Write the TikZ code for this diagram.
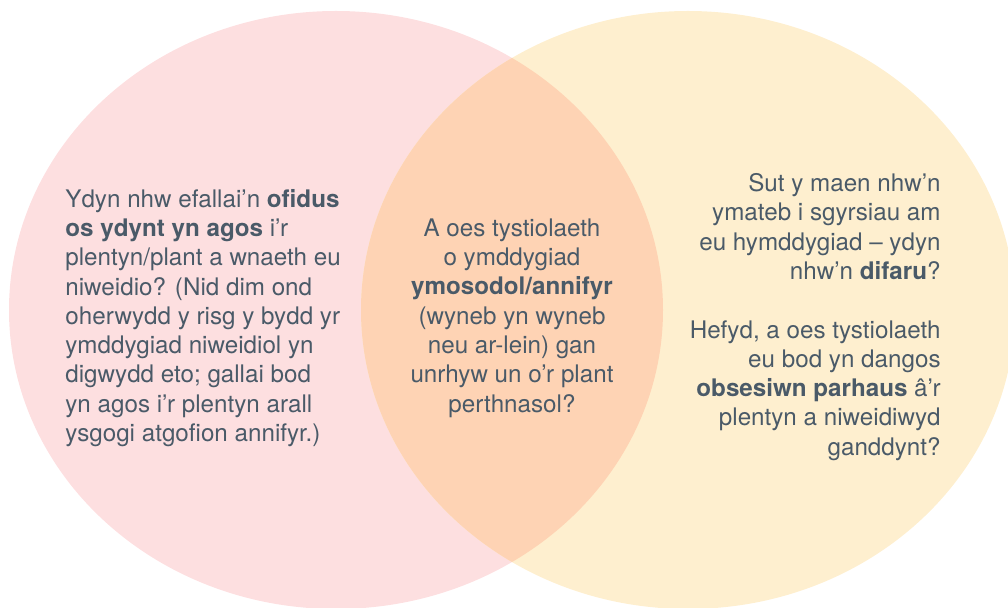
\documentclass[tikz,border=0pt]{standalone}
\usepackage{fontspec}
\setmainfont{TeX Gyre Heros}
\usepackage{tikz}
\usetikzlibrary{positioning}
\definecolor{pinkfill}{HTML}{FDDFE0}
\definecolor{yellowfill}{HTML}{FEEFCF}
\definecolor{overlapfill}{HTML}{FED3B4}
\definecolor{textgrey}{HTML}{4A5A68}

\begin{document}
\begin{tikzpicture}[x=0.5pt, y=-0.5pt,
    blurb/.style={text=textgrey, inner sep=0pt, font=\fontsize{12.1}{14.65}\selectfont}]
        \clip (0,0) rectangle (1008,608);

        % 圆
        \fill[pinkfill] (336,310) ellipse [x radius=327, y radius=299];
        \fill[yellowfill] (688,310) ellipse [x radius=327, y radius=299];
        \begin{scope}
            \clip (336,310) ellipse [x radius=327, y radius=299];
            \fill[overlapfill] (688,310) ellipse [x radius=327, y radius=299];
        \end{scope}

        % 文字
        \node[blurb, align=left, anchor=west] (worry) at (65,318) {Ydyn nhw efallai’n \textbf{ofidus}\\
            \textbf{os ydynt yn agos} i’r\\
            plentyn/plant a wnaeth eu\\
            niweidio? (Nid dim ond\\
            oherwydd y risg y bydd yr\\
            ymddygiad niweidiol yn\\
            digwydd eto; gallai bod\\
            yn agos i’r plentyn arall\\
            ysgogi atgofion annifyr.)};
        \node[blurb, align=center] (evidence) at (512,318) {A oes tystiolaeth\\
            o ymddygiad\\
            \textbf{ymosodol/annifyr}\\
            (wyneb yn wyneb\\
            neu ar-lein) gan\\
            unrhyw un o’r plant\\
            perthnasol?};
        \node[blurb, align=right, anchor=east] (regret) at (941,317) {Sut y maen nhw’n\\
            ymateb i sgyrsiau am\\
            eu hymddygiad – ydyn\\
            nhw’n \textbf{difaru}?\\[14.65pt]
            Hefyd, a oes tystiolaeth\\
            eu bod yn dangos\\
            \textbf{obsesiwn parhaus} â’r\\
            plentyn a niweidiwyd\\
            ganddynt?};
    \end{tikzpicture}
\end{document}
